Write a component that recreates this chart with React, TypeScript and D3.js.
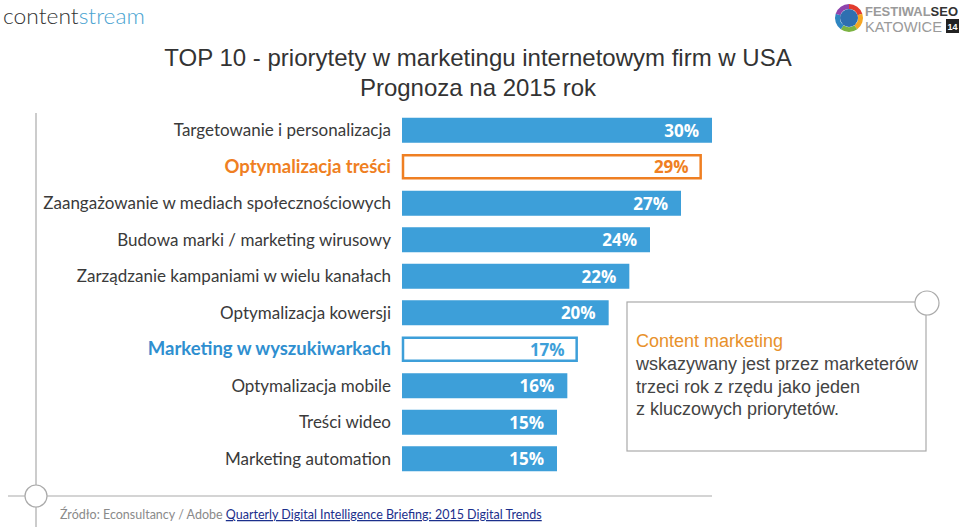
import React, {useEffect, useRef} from 'react';
import * as d3 from 'd3';

const categories = [
    "Targetowanie i personalizacja",
    "Optymalizacja treści",
    "Zaangażowanie w mediach społecznościowych",
    "Budowa marki / marketing wirusowy",
    "Zarządzanie kampaniami w wielu kanałach",
    "Optymalizacja kowersji",
    "Marketing w wyszukiwarkach",
    "Optymalizacja mobile",
    "Treści wideo",
    "Marketing automation"
];
const values = [30, 29, 27, 24, 22, 20, 17, 16, 15, 15];
// highlighted rows: "orange" outline, "blue" outline, otherwise filled
const highlights = ["", "orange", "", "", "", "", "blue", "", "", ""];

const titleLines = ["TOP 10 - priorytety w marketingu internetowym firm w USA", "Prognoza na 2015 rok"];
const noteHead = "Content marketing";
const noteLines = ["wskazywany jest przez marketerów", "trzeci rok z rzędu jako jeden", "z kluczowych priorytetów."];
const sourcePrefix = "Źródło: Econsultancy / Adobe ";
const sourceLink = "Quarterly Digital Intelligence Briefing: 2015 Digital Trends";

const BLUE = "#3d9fd9";
const ORANGE = "#ef7f22";
const GREY = "#aaaaaa";

function Chart() {
    const ref = useRef<SVGSVGElement>(null);

    useEffect(() => {
        const svg = d3.select(ref.current);
        svg.selectAll("*").remove();

        const width = 960, height = 527;
        const data = categories.map((c, i) => ({name: c, value: values[i], hl: highlights[i]}));

        const x = d3.scaleLinear().domain([0, 30]).range([402, 712]);
        const y = d3.scaleBand()
            .domain(categories)
            .range([112, 477])
            .paddingInner(0.315)
            .paddingOuter(0.1575);

        svg.attr("width", width).attr("height", height);

        // logos
        const logo = svg.append("text")
            .attr("x", 3).attr("y", 24)
            .attr("textLength", 142)
            .attr("lengthAdjust", "spacingAndGlyphs")
            .style("font-family", "Lato, sans-serif")
            .style("font-weight", 300)
            .style("font-size", "22px");
        logo.append("tspan").attr("fill", "#333").text("content");
        logo.append("tspan").attr("fill", "#4aa3d1").text("stream");

        const cx = 849, cy = 18;
        const ringColors = ["#e23b2e", "#f5a623", "#7cb342", "#2e86c1", "#8e44ad"];
        const arc = d3.arc<any>().innerRadius(9).outerRadius(14);
        const pie = d3.pie<number>().sort(null)(ringColors.map(() => 1));
        svg.append("g").attr("transform", `translate(${cx},${cy})`)
            .selectAll("path").data(pie).enter().append("path")
            .attr("d", arc)
            .attr("fill", (d, i) => ringColors[i]);
        svg.append("circle").attr("cx", cx).attr("cy", cy).attr("r", 9).attr("fill", "#2f6fb0");
        const fest = svg.append("text").attr("x", 865).attr("y", 16)
            .attr("textLength", 93).attr("lengthAdjust", "spacingAndGlyphs")
            .style("font-family", "'Liberation Sans', Arial, sans-serif").style("font-size", "13.5px").style("font-weight", "bold");
        fest.append("tspan").attr("fill", "#9a9a9a").text("FESTIWAL");
        fest.append("tspan").attr("fill", "#333").text("SEO");
        svg.append("text").attr("x", 865).attr("y", 32)
            .attr("textLength", 77).attr("lengthAdjust", "spacingAndGlyphs")
            .attr("fill", "#9a9a9a")
            .style("font-family", "'Liberation Sans', Arial, sans-serif").style("font-size", "14px")
            .text("KATOWICE");
        svg.append("rect").attr("x", 946).attr("y", 19).attr("width", 13).attr("height", 14).attr("fill", "#222");
        svg.append("text").attr("x", 952.5).attr("y", 30).attr("text-anchor", "middle")
            .attr("fill", "#fff").style("font-family", "'Liberation Sans', Arial, sans-serif")
            .style("font-size", "9px").style("font-weight", "bold").text("14");

        // title
        svg.selectAll(".title").data(titleLines).enter().append("text")
            .attr("class", "title")
            .attr("x", 478)
            .attr("y", (d, i) => 66 + i * 30)
            .attr("text-anchor", "middle")
            .attr("fill", "#333")
            .style("font-family", "'Liberation Sans', Arial, sans-serif")
            .style("font-size", "24px")
            .text(d => d);

        // decorative lines
        svg.append("line").attr("x1", 36).attr("x2", 36).attr("y1", 113).attr("y2", 527)
            .attr("stroke", GREY).attr("stroke-width", 1.2);
        svg.append("line").attr("x1", 8).attr("x2", 712).attr("y1", 496).attr("y2", 496)
            .attr("stroke", GREY).attr("stroke-width", 1.2);
        svg.append("circle").attr("cx", 36).attr("cy", 496).attr("r", 11)
            .attr("fill", "#fff").attr("stroke", GREY).attr("stroke-width", 1.2);

        const bars = svg.selectAll(".bar").data(data).enter().append("g").attr("class", "bar");

        bars.append("rect")
            .attr("x", d => d.hl ? x(0) + 1 : x(0))
            .attr("y", d => d.hl ? y(d.name)! + 1 : y(d.name)!)
            .attr("width", d => d.hl ? x(d.value) - x(0) - 2 : x(d.value) - x(0))
            .attr("height", d => d.hl ? y.bandwidth() - 2 : y.bandwidth())
            .attr("fill", d => d.hl ? "#fff" : BLUE)
            .attr("stroke", d => d.hl === "orange" ? ORANGE : d.hl === "blue" ? BLUE : "none")
            .attr("stroke-width", 2.5);

        // value labels inside the bar end
        bars.append("text")
            .attr("x", d => x(d.value) - 13)
            .attr("y", d => y(d.name)! + y.bandwidth() / 2 + 6.5)
            .attr("text-anchor", "end")
            .attr("fill", d => d.hl === "orange" ? ORANGE : d.hl === "blue" ? BLUE : "#fff")
            .style("font-family", "'Open Sans', sans-serif")
            .style("font-weight", "bold")
            .style("font-size", "17px")
            .text(d => d.value + "%");

        // category labels
        bars.append("text")
            .attr("x", 391)
            .attr("y", d => y(d.name)! + y.bandwidth() / 2 + 6)
            .attr("text-anchor", "end")
            .attr("fill", d => d.hl === "orange" ? ORANGE : d.hl === "blue" ? "#2f8fd0" : "#3a3a3a")
            .style("font-family", "Lato, sans-serif")
            .style("font-weight", d => d.hl ? "bold" : "normal")
            .style("font-size", d => d.hl ? "18.5px" : "17px")
            .text(d => d.name);

        // note box
        svg.append("rect").attr("x", 627).attr("y", 302).attr("width", 299).attr("height", 149)
            .attr("fill", "#fff").attr("stroke", GREY).attr("stroke-width", 1.2);
        svg.append("circle").attr("cx", 927).attr("cy", 303).attr("r", 12)
            .attr("fill", "#fff").attr("stroke", GREY).attr("stroke-width", 1.2);
        svg.append("text").attr("x", 636).attr("y", 347)
            .attr("fill", "#e8912b")
            .style("font-family", "'Liberation Sans', Arial, sans-serif").style("font-size", "18px")
            .text(noteHead);
        svg.selectAll(".note").data(noteLines).enter().append("text")
            .attr("class", "note")
            .attr("x", 636)
            .attr("y", (d, i) => 370 + i * 22.5)
            .attr("fill", "#444")
            .style("font-family", "'Liberation Sans', Arial, sans-serif").style("font-size", "18px")
            .text(d => d);

        // source
        const src = svg.append("text").attr("x", 60).attr("y", 519)
            .style("font-family", "Lato, sans-serif").style("font-size", "12.5px");
        src.append("tspan").attr("fill", "#8a8a8a").text(sourcePrefix);
        src.append("tspan").attr("fill", "#1b2f8c").attr("text-decoration", "underline").text(sourceLink);
    }, []);

    return <svg ref={ref} style={{position: "absolute", left: 0, top: 0}}></svg>;
}

export default function App() {
    return <Chart/>;
}
